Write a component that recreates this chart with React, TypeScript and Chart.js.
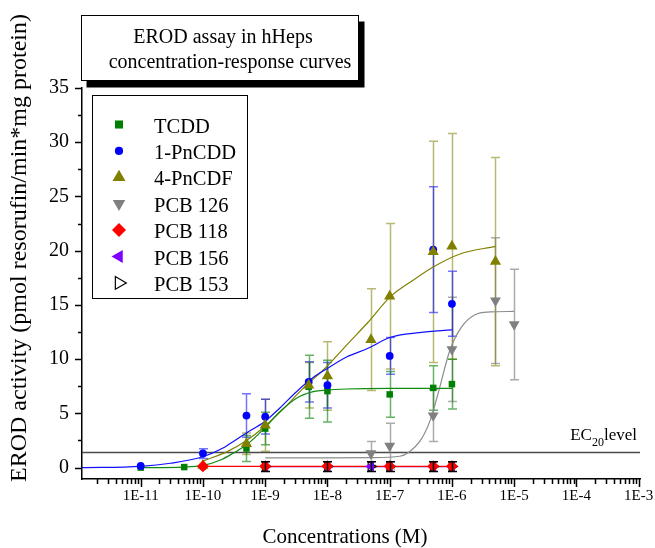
import React, { useEffect, useRef } from 'react';
import { Chart, registerables } from 'chart.js';

Chart.register(...registerables);

const FONT = "'Liberation Serif', 'Times New Roman', Times, serif";

// ---- axes ----
const xMin = 1.14e-12;
const xMax = 1.05e-3;
const yMin = -1.05;
const yMax = 35;
const yTickValues = [0, 2.5, 5, 7.5, 10, 12.5, 15, 17.5, 20, 22.5, 25, 27.5, 30, 32.5, 35];
const xDecades = [-12, -11, -10, -9, -8, -7, -6, -5, -4, -3];
const xMantissas = [1, 2, 3, 4, 5, 6, 7, 8, 9];
const ec20Level = 1.4;

// ---- text ----
const titleLines = ['EROD assay in hHeps', 'concentration-response curves'];
const xTitle = 'Concentrations (M)';
const yTitle = 'EROD activity (pmol resorufin/min*mg protein)';
const seriesNames = ['TCDD', '1-PnCDD', '4-PnCDF', 'PCB 126', 'PCB 118', 'PCB 156', 'PCB 153'];

// ---- measured points (mean, ± error) ----
const tcddX = [1e-11, 5e-11, 1e-10, 5e-10, 1e-9, 5e-9, 1e-8, 1e-7, 5e-7, 1e-6];
const tcddY = [0.0, 0.05, 0.1, 1.77, 3.6, 7.45, 7.05, 6.75, 7.35, 7.7];
const tcddErr = [0, 0, 0, 1.2, 1.5, 2.9, 2.85, 2.1, 2.05, 2.3];

const pncddX = [1e-11, 1e-10, 5e-10, 1e-9, 5e-9, 1e-8, 1e-7, 5e-7, 1e-6];
const pncddY = [0.15, 1.3, 4.8, 4.7, 7.9, 7.6, 10.3, 20.1, 15.1];
const pncddErr = [0, 0.45, 2.0, 1.6, 1.85, 2.1, 1.7, 5.8, 3.0];

const pncdfX = [1e-10, 5e-10, 1e-9, 5e-9, 1e-8, 5e-8, 1e-7, 5e-7, 1e-6, 5e-6];
const pncdfY = [0.2, 2.2, 3.9, 7.6, 8.45, 11.8, 15.8, 19.9, 20.4, 19.0];
const pncdfErr = [0, 1.0, 2.4, 2.1, 3.15, 4.7, 6.7, 10.2, 10.4, 9.6];

const pcb126X = [5e-8, 1e-7, 5e-7, 1e-6, 5e-6, 1e-5];
const pcb126Y = [1.3, 2.0, 4.8, 10.9, 15.4, 13.2];
const pcb126Err = [1.1, 2.1, 2.4, 4.8, 5.8, 5.1];

const pcb118X = [1e-10, 1e-9, 1e-8, 1e-7, 5e-7, 1e-6];
const pcb118Y = [0.12, 0.12, 0.12, 0.12, 0.12, 0.12];
const pcb118Err = [0, 0, 0, 0, 0, 0];

const pcb156X = [1e-9, 1e-8, 5e-8, 1e-7, 5e-7, 1e-6];
const pcb156Y = [0.1, 0.1, 0.1, 0.1, 0.1, 0.1];
const pcb156Err = [0, 0, 0, 0, 0, 0];

const pcb153X = [1e-9, 1e-8, 5e-8, 1e-7, 5e-7, 1e-6];
const pcb153Y = [0.1, 0.1, 0.1, 0.1, 0.1, 0.1];
const pcb153Err = [0.45, 0.45, 0.45, 0.45, 0.45, 0.45];

// ---- fitted curves ----
const tcddFitX = [1e-11, 5e-11, 1e-10, 2e-10, 3e-10, 5e-10, 9.6e-10, 1.72e-9, 3.18e-9, 5.89e-9, 9.7e-9, 2.03e-8, 1e-7, 1e-6];
const tcddFitY = [0.0, 0.05, 0.2, 0.75, 1.3, 2.1, 3.6, 5.15, 6.4, 7.0, 7.15, 7.25, 7.3, 7.3];

const pncddFitX = [1.14e-12, 1e-11, 3e-11, 1e-10, 2.1e-10, 2.7e-10, 5e-10, 9.6e-10, 1.72e-9, 3.18e-9, 5.89e-9, 9.7e-9, 2.03e-8, 4.5e-8, 1e-7, 3e-7, 1e-6];
const pncddFitY = [0.0, 0.12, 0.4, 1.0, 1.8, 2.2, 3.2, 4.2, 5.5, 7.0, 8.3, 9.1, 10.2, 11.0, 12.0, 12.45, 12.7];

const pncdfFitX = [1e-10, 2.5e-10, 5e-10, 9.6e-10, 1.94e-9, 4.06e-9, 9.7e-9, 2.03e-8, 4.5e-8, 1e-7, 2.4e-7, 5e-7, 1.35e-6, 5e-6];
const pncdfFitY = [0.6, 1.5, 2.5, 3.75, 5.4, 7.3, 9.3, 11.3, 13.4, 15.7, 17.3, 18.5, 19.7, 20.4];

const pcb126FitX = [1e-9, 1e-8, 5e-8, 1.46e-7, 2e-7, 3.2e-7, 4.5e-7, 6e-7, 9.3e-7, 1.44e-6, 2.35e-6, 4.1e-6, 1e-5];
const pcb126FitY = [0.9, 0.9, 0.92, 1.05, 1.4, 2.6, 4.4, 6.85, 10.85, 13.0, 14.1, 14.35, 14.4];

const pcb118FitX = [1e-10, 1e-6];
const pcb118FitY = [0.12, 0.12];

const pcb156FitX = [1e-9, 1e-6];
const pcb156FitY = [0.1, 0.1];

type Series = {
  name: string; x: number[]; y: number[]; err: number[];
  fitX?: number[]; fitY?: number[];
  color: string; fill: string; errColor: string; fitColor: string;
  style: string; rot: number; r: number; legendR: number; bw: number; errTop?: boolean;
};

const series: Series[] = [
  { name: seriesNames[0], x: tcddX, y: tcddY, err: tcddErr, fitX: tcddFitX, fitY: tcddFitY,
    color: '#008000', fill: '#008000', errColor: 'rgba(0,128,0,0.6)', fitColor: '#108a10',
    style: 'rect', rot: 0, r: 4.6, legendR: 5.7, bw: 0 },
  { name: seriesNames[1], x: pncddX, y: pncddY, err: pncddErr, fitX: pncddFitX, fitY: pncddFitY,
    color: '#0000ff', fill: '#0000ff', errColor: 'rgba(0,0,255,0.55)', fitColor: '#1010ff',
    style: 'circle', rot: 0, r: 3.9, legendR: 4.1, bw: 0 },
  { name: seriesNames[2], x: pncdfX, y: pncdfY, err: pncdfErr, fitX: pncdfFitX, fitY: pncdfFitY,
    color: '#808000', fill: '#808000', errColor: 'rgba(128,128,0,0.55)', fitColor: '#808000',
    style: 'triangle', rot: 0, r: 6.5, legendR: 7.5, bw: 0 },
  { name: seriesNames[3], x: pcb126X, y: pcb126Y, err: pcb126Err, fitX: pcb126FitX, fitY: pcb126FitY,
    color: '#808080', fill: '#808080', errColor: 'rgba(128,128,128,0.65)', fitColor: '#8c8c8c',
    style: 'triangle', rot: 180, r: 6.3, legendR: 7.2, bw: 0 },
  { name: seriesNames[4], x: pcb118X, y: pcb118Y, err: pcb118Err, fitX: pcb118FitX, fitY: pcb118FitY,
    color: '#ff0000', fill: '#ff0000', errColor: 'rgba(255,0,0,0.6)', fitColor: '#ff0000',
    style: 'rectRot', rot: 0, r: 6, legendR: 7, bw: 0 },
  { name: seriesNames[5], x: pcb156X, y: pcb156Y, err: pcb156Err, fitX: pcb156FitX, fitY: pcb156FitY,
    color: '#8000ff', fill: '#8000ff', errColor: 'rgba(128,0,255,0.6)', fitColor: '#6000c0',
    style: 'triangle', rot: -90, r: 6, legendR: 7.5, bw: 0 },
  { name: seriesNames[6], x: pcb153X, y: pcb153Y, err: pcb153Err,
    color: '#000000', fill: 'rgba(255,255,255,0)', errColor: '#000000', fitColor: '#000000',
    style: 'triangle', rot: 90, r: 5.5, legendR: 7.3, bw: 1.2, errTop: true },
];

// draw order: topmost first
const markerOrder = [4, 5, 6, 3, 2, 1, 0];

function isMajorX(v: number) {
  const e = Math.round(Math.log10(v));
  return Math.abs(v / Math.pow(10, e) - 1) < 1e-6;
}

function drawMarker(ctx: CanvasRenderingContext2D, style: string, x: number, y: number, r: number,
  rotDeg: number, fill: string, stroke: string, lw: number) {
  ctx.save();
  ctx.beginPath();
  const rad = (rotDeg * Math.PI) / 180;
  if (style === 'circle') ctx.arc(x, y, r, 0, Math.PI * 2);
  else if (style === 'rect') {
    const s = r * Math.SQRT1_2;
    ctx.rect(x - s, y - s, 2 * s, 2 * s);
  } else if (style === 'rectRot') {
    ctx.moveTo(x, y - r); ctx.lineTo(x + r, y); ctx.lineTo(x, y + r); ctx.lineTo(x - r, y); ctx.closePath();
  } else {
    for (let k = 0; k < 3; k++) {
      const a = rad + (k * 2 * Math.PI) / 3;
      const px = x + Math.sin(a) * r;
      const py = y - Math.cos(a) * r;
      if (k === 0) ctx.moveTo(px, py); else ctx.lineTo(px, py);
    }
    ctx.closePath();
  }
  ctx.fillStyle = fill;
  ctx.fill();
  if (lw > 0) { ctx.strokeStyle = stroke; ctx.lineWidth = lw; ctx.stroke(); }
  ctx.restore();
}

function drawErrors(chart: any, top: boolean) {
  const { ctx } = chart;
  const xs = chart.scales.x;
  const ys = chart.scales.y;
  ctx.save();
  chart.data.datasets.forEach((ds: any) => {
    if (!ds.errors || !!ds.errorOnTop !== top) return;
    ctx.strokeStyle = ds.errorColor;
    ctx.lineWidth = 1.5;
    ds.data.forEach((p: any, j: number) => {
      const e = ds.errors[j];
      if (!e) return;
      const px = Math.round(xs.getPixelForValue(p.x)) + 0.5;
      const y1 = ys.getPixelForValue(p.y + e);
      const y2 = ys.getPixelForValue(p.y - e);
      ctx.beginPath();
      ctx.moveTo(px, y1); ctx.lineTo(px, y2);
      ctx.moveTo(px - 4.5, y1); ctx.lineTo(px + 4.5, y1);
      ctx.moveTo(px - 4.5, y2); ctx.lineTo(px + 4.5, y2);
      ctx.stroke();
    });
  });
  ctx.restore();
}

const decorPlugin = {
  id: 'decor',
  beforeDatasetsDraw(chart: any) {
    const { ctx, chartArea } = chart;
    const ys = chart.scales.y;
    const py = ys.getPixelForValue(ec20Level);
    ctx.save();
    ctx.strokeStyle = '#4a4a4a';
    ctx.lineWidth = 1.5;
    ctx.beginPath();
    ctx.moveTo(chartArea.left, py);
    ctx.lineTo(chartArea.right, py);
    ctx.stroke();
    ctx.restore();
    drawErrors(chart, false);
  },
  afterDatasetsDraw(chart: any) {
    drawErrors(chart, true);
  },
  afterDraw(chart: any) {
    const { ctx, chartArea } = chart;
    const xs = chart.scales.x;
    const ys = chart.scales.y;
    ctx.save();
    // axis ticks (outward)
    ctx.strokeStyle = '#000';
    ctx.lineWidth = 1.5;
    ctx.beginPath();
    xs.ticks.forEach((t: any) => {
      const px = Math.round(xs.getPixelForValue(t.value)) + 0.5;
      const len = isMajorX(t.value) ? 8 : 5;
      ctx.moveTo(px, chartArea.bottom);
      ctx.lineTo(px, chartArea.bottom + len);
    });
    ys.ticks.forEach((t: any) => {
      const py = Math.round(ys.getPixelForValue(t.value)) + 0.5;
      const len = t.value % 5 === 0 ? 7 : 4;
      ctx.moveTo(chartArea.left, py);
      ctx.lineTo(chartArea.left - len, py);
    });
    ctx.stroke();

    // EC20 label
    const py = ys.getPixelForValue(ec20Level);
    ctx.fillStyle = '#000';
    ctx.textBaseline = 'alphabetic';
    ctx.textAlign = 'left';
    ctx.font = `17px ${FONT}`;
    const wEC = ctx.measureText('EC').width;
    const wLev = ctx.measureText('level').width;
    ctx.font = `12px ${FONT}`;
    const wSub = ctx.measureText('20').width;
    let lx = 637 - (wEC + wSub + wLev);
    const base = py - 12;
    ctx.font = `17px ${FONT}`;
    ctx.fillText('EC', lx, base);
    ctx.font = `12px ${FONT}`;
    ctx.fillText('20', lx + wEC, base + 6);
    ctx.font = `17px ${FONT}`;
    ctx.fillText('level', lx + wEC + wSub, base);

    // title box with shadow
    const bx = 81.5, by = 15.5, bw = 277, bh = 65;
    ctx.fillStyle = '#000';
    ctx.fillRect(bx + 5, by + 6, bw + 1, bh + 1);
    ctx.fillStyle = '#fff';
    ctx.fillRect(bx, by, bw, bh);
    ctx.strokeStyle = '#000';
    ctx.lineWidth = 1;
    ctx.strokeRect(bx, by, bw, bh);
    ctx.fillStyle = '#000';
    ctx.font = `20px ${FONT}`;
    ctx.textAlign = 'center';
    ctx.fillText(titleLines[0], 223, 43);
    ctx.fillText(titleLines[1], 230, 68);

    // legend
    const lx0 = 92.5, ly0 = 95.5, lw0 = 155, lh0 = 203;
    ctx.fillStyle = '#fff';
    ctx.fillRect(lx0, ly0, lw0, lh0);
    ctx.strokeStyle = '#000';
    ctx.lineWidth = 1;
    ctx.strokeRect(lx0, ly0, lw0, lh0);
    ctx.font = `20.5px ${FONT}`;
    ctx.textAlign = 'left';
    series.forEach((s, i) => {
      const cy = 124.5 + i * 26.4;
      const fill = s.bw > 0 ? '#fff' : s.fill;
      drawMarker(ctx, s.style, 119, cy, s.legendR, s.rot, fill, s.color, s.bw);
      ctx.fillStyle = '#000';
      ctx.fillText(s.name, 154, cy + 8);
    });

    // axis titles
    ctx.fillStyle = '#000';
    ctx.textAlign = 'center';
    ctx.textBaseline = 'middle';
    ctx.font = `21px ${FONT}`;
    ctx.fillText(xTitle, 345, 537);
    ctx.save();
    ctx.translate(20, 248);
    ctx.rotate(-Math.PI / 2);
    ctx.font = `24px ${FONT}`;
    ctx.fillText(yTitle, 0, 0);
    ctx.restore();
    ctx.restore();
  },
};

export default function App() {
  const ref = useRef<HTMLCanvasElement | null>(null);
  useEffect(() => {
    if (!ref.current) return;
    const markerSets = markerOrder.map((idx, k) => {
      const s = series[idx];
      return {
        label: s.name,
        data: s.x.map((xv, i) => ({ x: xv, y: s.y[i] })),
        showLine: false,
        pointStyle: s.style,
        pointRadius: s.r,
        pointRotation: s.rot,
        backgroundColor: s.fill,
        borderColor: s.color,
        borderWidth: s.bw,
        errors: s.err,
        errorColor: s.errColor,
        errorOnTop: !!s.errTop,
        order: k,
      };
    });
    const curveSets = series
      .filter((s) => s.fitX && s.fitY)
      .map((s, k) => ({
        label: s.name + ' fit',
        data: (s.fitX as number[]).map((xv, i) => ({ x: xv, y: (s.fitY as number[])[i] })),
        showLine: true,
        pointRadius: 0,
        borderColor: s.fitColor,
        borderWidth: 1.2,
        cubicInterpolationMode: 'monotone',
        fill: false,
        order: 20 + k,
      }));

    const chart = new Chart(ref.current, {
      type: 'scatter',
      data: { datasets: [...markerSets, ...curveSets] as any },
      plugins: [decorPlugin as any],
      options: {
        animation: false,
        responsive: false,
        devicePixelRatio: 1,
        events: [],
        layout: { padding: { top: 88, right: 15, bottom: 0, left: 0 } },
        plugins: { legend: { display: false }, tooltip: { enabled: false }, title: { display: false } },
        scales: {
          x: {
            type: 'logarithmic',
            position: 'bottom',
            bounds: 'data',
            min: xMin,
            max: xMax,
            afterBuildTicks: (scale: any) => {
              const ticks: any[] = [];
              xDecades.forEach((e) => {
                xMantissas.forEach((m) => {
                  const v = m * Math.pow(10, e);
                  if (v >= xMin && v <= xMax) ticks.push({ value: v });
                });
              });
              scale.ticks = ticks;
            },
            afterFit: (scale: any) => {
              scale.height = 69;
              scale.paddingLeft = 0;
              scale.paddingRight = 0;
            },
            grid: { display: false, drawTicks: false },
            border: { display: true, color: '#000', width: 1.5 },
            ticks: {
              autoSkip: false,
              maxRotation: 0,
              minRotation: 0,
              padding: 8,
              color: '#000',
              font: { family: FONT, size: 15 },
              callback: (v: any) => {
                const val = Number(v);
                if (!isMajorX(val)) return '';
                return '1E' + Math.round(Math.log10(val));
              },
            },
          } as any,
          y: {
            type: 'linear',
            position: 'left',
            bounds: 'data',
            min: yMin,
            max: yMax,
            afterBuildTicks: (scale: any) => {
              scale.ticks = yTickValues.map((v) => ({ value: v }));
            },
            afterFit: (scale: any) => {
              scale.width = 82;
              scale.paddingTop = 0;
              scale.paddingBottom = 0;
            },
            grid: { display: false, drawTicks: false },
            border: { display: true, color: '#000', width: 1.5 },
            ticks: {
              autoSkip: false,
              padding: 13,
              color: '#000',
              font: { family: FONT, size: 20 },
              callback: (v: any) => (Number(v) % 5 === 0 ? String(v) : ''),
            },
          } as any,
        },
      },
    });
    return () => chart.destroy();
  }, []);

  return (
    <div style={{ position: 'absolute', left: 0, top: 0, width: 655, height: 548, background: '#fff' }}>
      <canvas ref={ref} width={655} height={548} style={{ display: 'block' }} />
    </div>
  );
}
